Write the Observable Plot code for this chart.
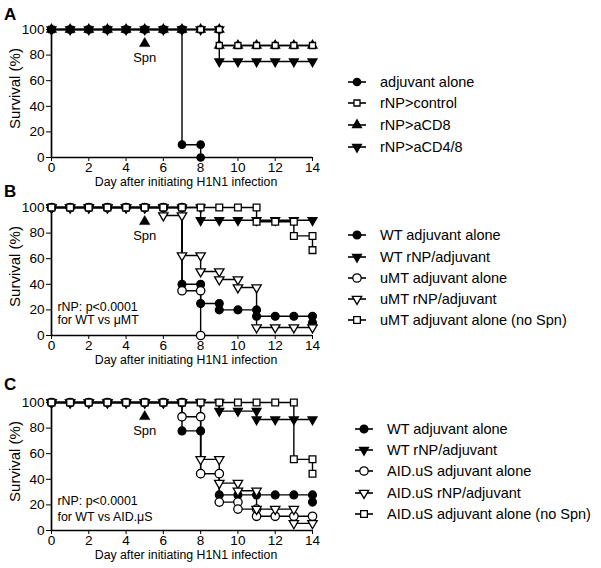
<!DOCTYPE html>
<html><head><meta charset="utf-8">
<script src="https://cdn.jsdelivr.net/npm/d3@7"></script>
<script src="https://cdn.jsdelivr.net/npm/@observablehq/plot@0.6"></script>
<style>
body{margin:0;background:#fff;font-family:"Liberation Sans",Arial,sans-serif;color:#000;}
#root{position:relative;width:601px;height:568px;overflow:hidden;background:#fff;}
.panel{position:absolute;left:0;}
.letter{position:absolute;font-weight:bold;font-size:17px;line-height:18px;}
.lrow{position:absolute;white-space:nowrap;display:flex;align-items:center;height:18px;font-size:14.5px;}
.lrow svg{flex:none;}
</style></head><body><div id="root"></div>
<script>
// ---------- shared axis data ----------
const xTicks = [0, 2, 4, 6, 8, 10, 12, 14];
const yTicks = [0, 20, 40, 60, 80, 100];
const xLabel = "Day after initiating H1N1 infection";
const yLabel = "Survival (%)";

// ---------- Panel A ----------
const namesA = ["adjuvant alone", "rNP>control", "rNP>aCD8", "rNP>aCD4/8"];
const daysA_adj = [0,1,2,3,4,5,6,7,7,8,8];
const survA_adj = [100,100,100,100,100,100,100,100,10,10,0];
const daysA_ctrl = [0,1,2,3,4,5,6,7,8,9,9,10,11,12,13,14];
const survA_ctrl = [100,100,100,100,100,100,100,100,100,100,87.5,87.5,87.5,87.5,87.5,87.5];
const daysA_cd8 = [0,1,2,3,4,5,6,7,8,9,9,10,11,12,13,14];
const survA_cd8 = [100,100,100,100,100,100,100,100,100,100,87.5,87.5,87.5,87.5,87.5,87.5];
const daysA_cd48 = [0,1,2,3,4,5,6,7,8,9,9,10,11,12,13,14];
const survA_cd48 = [100,100,100,100,100,100,100,100,100,100,75,75,75,75,75,75];

// ---------- Panel B ----------
const namesB = ["WT adjuvant alone", "WT rNP/adjuvant", "uMT adjuvant alone", "uMT rNP/adjuvant", "uMT adjuvant alone (no Spn)"];
const daysB_wtAdj = [0,1,2,3,4,5,6,7,7,8,8,9,9,10,11,11,12,13,14,14];
const survB_wtAdj = [100,100,100,100,100,100,100,100,40,40,25,25,20,20,20,15,15,15,15,10];
const daysB_wtRnp = [0,1,2,3,4,5,6,7,8,8,9,10,11,12,13,14];
const survB_wtRnp = [100,100,100,100,100,100,100,100,100,90,90,90,90,90,90,90];
const daysB_muAdj = [0,1,2,3,4,5,6,7,7,8,8];
const survB_muAdj = [100,100,100,100,100,100,100,100,35,35,0];
const daysB_muRnp = [0,1,2,3,4,5,6,6,7,7,8,8,9,9,10,10,11,11,12,13,14];
const survB_muRnp = [100,100,100,100,100,100,100,93.75,93.75,62.5,62.5,50,50,43.75,43.75,37.5,37.5,6.25,6.25,6.25,6.25];
const daysB_muNoSpn = [0,1,2,3,4,5,6,7,8,9,10,11,11,12,13,13,14,14];
const survB_muNoSpn = [100,100,100,100,100,100,100,100,100,100,100,100,88.9,88.9,88.9,77.8,77.8,66.7];

// ---------- Panel C ----------
const namesC = ["WT adjuvant alone", "WT rNP/adjuvant", "AID.uS adjuvant alone", "AID.uS rNP/adjuvant", "AID.uS adjuvant alone (no Spn)"];
const daysC_wtAdj = [0,1,2,3,4,5,6,7,7,8,8,9,9,10,11,12,13,14,14];
const survC_wtAdj = [100,100,100,100,100,100,100,100,77.8,77.8,44.4,44.4,27.8,27.8,27.8,27.8,27.8,27.8,22.2];
const daysC_wtRnp = [0,1,2,3,4,5,6,7,8,9,9,10,11,11,12,13,14];
const survC_wtRnp = [100,100,100,100,100,100,100,100,100,100,93.3,93.3,93.3,86.7,86.7,86.7,86.7];
const daysC_aidAdj = [0,1,2,3,4,5,6,7,7,8,8,9,9,10,10,11,11,12,13,14];
const survC_aidAdj = [100,100,100,100,100,100,100,100,88.9,88.9,44.4,44.4,22.2,22.2,16.7,16.7,11.1,11.1,11.1,11.1];
const daysC_aidRnp = [0,1,2,3,4,5,6,7,8,8,9,9,10,10,11,11,12,13,13,14];
const survC_aidRnp = [100,100,100,100,100,100,100,100,100,55.6,55.6,37,37,31,31,16.7,16.7,16.7,5.6,5.6];
const daysC_aidNoSpn = [0,1,2,3,4,5,6,7,8,9,10,11,12,13,13,14,14];
const survC_aidNoSpn = [100,100,100,100,100,100,100,100,100,100,100,100,100,100,55.6,55.6,44.4];

// ---------- annotations ----------
const spnDay = 5, spnMarker = 89, spnText = 78;
const noteB = "rNP: p<0.0001\nfor WT vs μMT";
const noteC = "rNP: p<0.0001\nfor WT vs AID.μS";

// ---------- symbols ----------
const sqrt3 = Math.sqrt(3);
const triDown = {draw(ctx, size){ const y = -Math.sqrt(size/(sqrt3*3)); ctx.moveTo(0,-2*y); ctx.lineTo(-sqrt3*y, y); ctx.lineTo(sqrt3*y, y); ctx.closePath(); }};
const symObj = {circle: d3.symbolCircle, square: d3.symbolSquare, triangle: d3.symbolTriangle, tridown: triDown};
const symR = {circle: 3.9, square: 3.8, triangle: 3.3, tridown: 3.3};

function pts(days, surv){ return days.map((d,i)=>({day:d, surv:surv[i]})); }

const panels = [
  {top:0, letter:"A", letterTop:6, legendX:357, textX:380, legendY:[82,103,125,147], note:null,
   series:[
     {name:namesA[3], data:pts(daysA_cd48, survA_cd48), shape:"tridown", filled:true},
     {name:namesA[2], data:pts(daysA_cd8, survA_cd8), shape:"triangle", filled:true},
     {name:namesA[1], data:pts(daysA_ctrl, survA_ctrl), shape:"square", filled:false, r:3.4},
     {name:namesA[0], data:pts(daysA_adj, survA_adj), shape:"circle", filled:true, r:3.7}
   ], legendOrder:[3,2,1,0]},
  {top:178, letter:"B", letterTop:183, legendX:357, textX:380, legendY:[235,256.5,277.5,299,320], note:noteB, noteY:17.3, noteLH:1.05,
   series:[
     {name:namesB[0], data:pts(daysB_wtAdj, survB_wtAdj), shape:"circle", filled:true},
     {name:namesB[1], data:pts(daysB_wtRnp, survB_wtRnp), shape:"tridown", filled:true},
     {name:namesB[2], data:pts(daysB_muAdj, survB_muAdj), shape:"circle", filled:false, r:4.2},
     {name:namesB[3], data:pts(daysB_muRnp, survB_muRnp), shape:"tridown", filled:false, r:3.5},
     {name:namesB[4], data:pts(daysB_muNoSpn, survB_muNoSpn), shape:"square", filled:false}
   ], legendOrder:[0,1,2,3,4]},
  {top:373, letter:"C", letterTop:376, legendX:364, textX:387, legendY:[428.5,450,471,492.5,513.5], note:noteC, noteY:18, noteLH:1.3,
   series:[
     {name:namesC[0], data:pts(daysC_wtAdj, survC_wtAdj), shape:"circle", filled:true},
     {name:namesC[1], data:pts(daysC_wtRnp, survC_wtRnp), shape:"tridown", filled:true},
     {name:namesC[2], data:pts(daysC_aidAdj, survC_aidAdj), shape:"circle", filled:false, r:4.2},
     {name:namesC[3], data:pts(daysC_aidRnp, survC_aidRnp), shape:"tridown", filled:false, r:3.5},
     {name:namesC[4], data:pts(daysC_aidNoSpn, survC_aidNoSpn), shape:"square", filled:false}
   ], legendOrder:[0,1,2,3,4]}
];

const root = document.getElementById("root");

function makePanel(p){
  const marks = [];
  for (const s of p.series) marks.push(Plot.line(s.data, {x:"day", y:"surv", stroke:"black", strokeWidth:1.4}));
  marks.push(Plot.ruleY([0], {stroke:"black", strokeWidth:1.7}));
  marks.push(Plot.ruleX([0], {stroke:"black", strokeWidth:1.7}));
  for (const s of p.series) marks.push(Plot.dot(s.data, {x:"day", y:"surv", symbol:symObj[s.shape], r:s.r ?? symR[s.shape],
      fill: s.filled ? "black" : "white", stroke:"black", strokeWidth:1.3}));
  marks.push(Plot.dot([{day:spnDay, v:spnMarker}], {x:"day", y:"v", symbol:"triangle", r:3.9, fill:"black", stroke:"black", strokeWidth:0.5}));
  marks.push(Plot.text([{day:spnDay, v:spnText}], {x:"day", y:"v", text:()=>"Spn", fontSize:13}));
  if (p.note) marks.push(Plot.text([{day:0.32, v:p.noteY, t:p.note}], {x:"day", y:"v", text:"t", textAnchor:"start", fontSize:12.4, lineHeight:p.noteLH}));
  marks.push(Plot.text([xLabel], {text:d=>d, frameAnchor:"bottom", dy:28.5, dx:4, fontSize:12.3}));
  marks.push(Plot.text([yLabel], {text:d=>d, frameAnchor:"left", textAnchor:"middle", rotate:-90, dx:-36, dy:-5, fontSize:15}));
  return Plot.plot({
    width:601, height:190, marginLeft:51, marginRight:289, marginTop:29, marginBottom:33,
    x:{domain:[0,14], ticks:xTicks, tickSize:4, tickPadding:1, label:null},
    y:{domain:[0,100], ticks:yTicks, tickSize:5, tickPadding:2, label:null},
    style:{fontFamily:"'Liberation Sans', Arial, sans-serif", fontSize:"13.6px", color:"black", background:"transparent", overflow:"visible"},
    marks
  });
}

function legendSymbol(s){
  const svg = d3.create("svg").attr("width",24).attr("height",18);
  svg.append("line").attr("x1",3).attr("x2",21).attr("y1",9).attr("y2",9).attr("stroke","black").attr("stroke-width",1.6);
  const r = s.r ?? symR[s.shape];
  svg.append("path").attr("transform","translate(12,9)")
    .attr("d", d3.symbol(symObj[s.shape], Math.PI*r*r)())
    .attr("fill", s.filled ? "black" : "white").attr("stroke","black").attr("stroke-width",1.3);
  return svg.node();
}

for (const p of panels){
  const div = document.createElement("div");
  div.className = "panel"; div.style.top = p.top + "px";
  div.appendChild(makePanel(p));
  root.appendChild(div);
  const L = document.createElement("div");
  L.className = "letter"; L.textContent = p.letter; L.style.left = "4px"; L.style.top = p.letterTop + "px";
  root.appendChild(L);
  p.legendOrder.forEach((si, k) => {
    const s = p.series[si];
    const row = document.createElement("div");
    row.className = "lrow";
    row.style.left = (p.legendX - 12) + "px";
    row.style.top = (p.legendY[k] - 9) + "px";
    row.appendChild(legendSymbol(s));
    const t = document.createElement("span");
    t.textContent = s.name; t.style.marginLeft = (p.textX - (p.legendX + 12)) + "px";
    row.appendChild(t);
    root.appendChild(row);
  });
}
</script>
</body></html>
